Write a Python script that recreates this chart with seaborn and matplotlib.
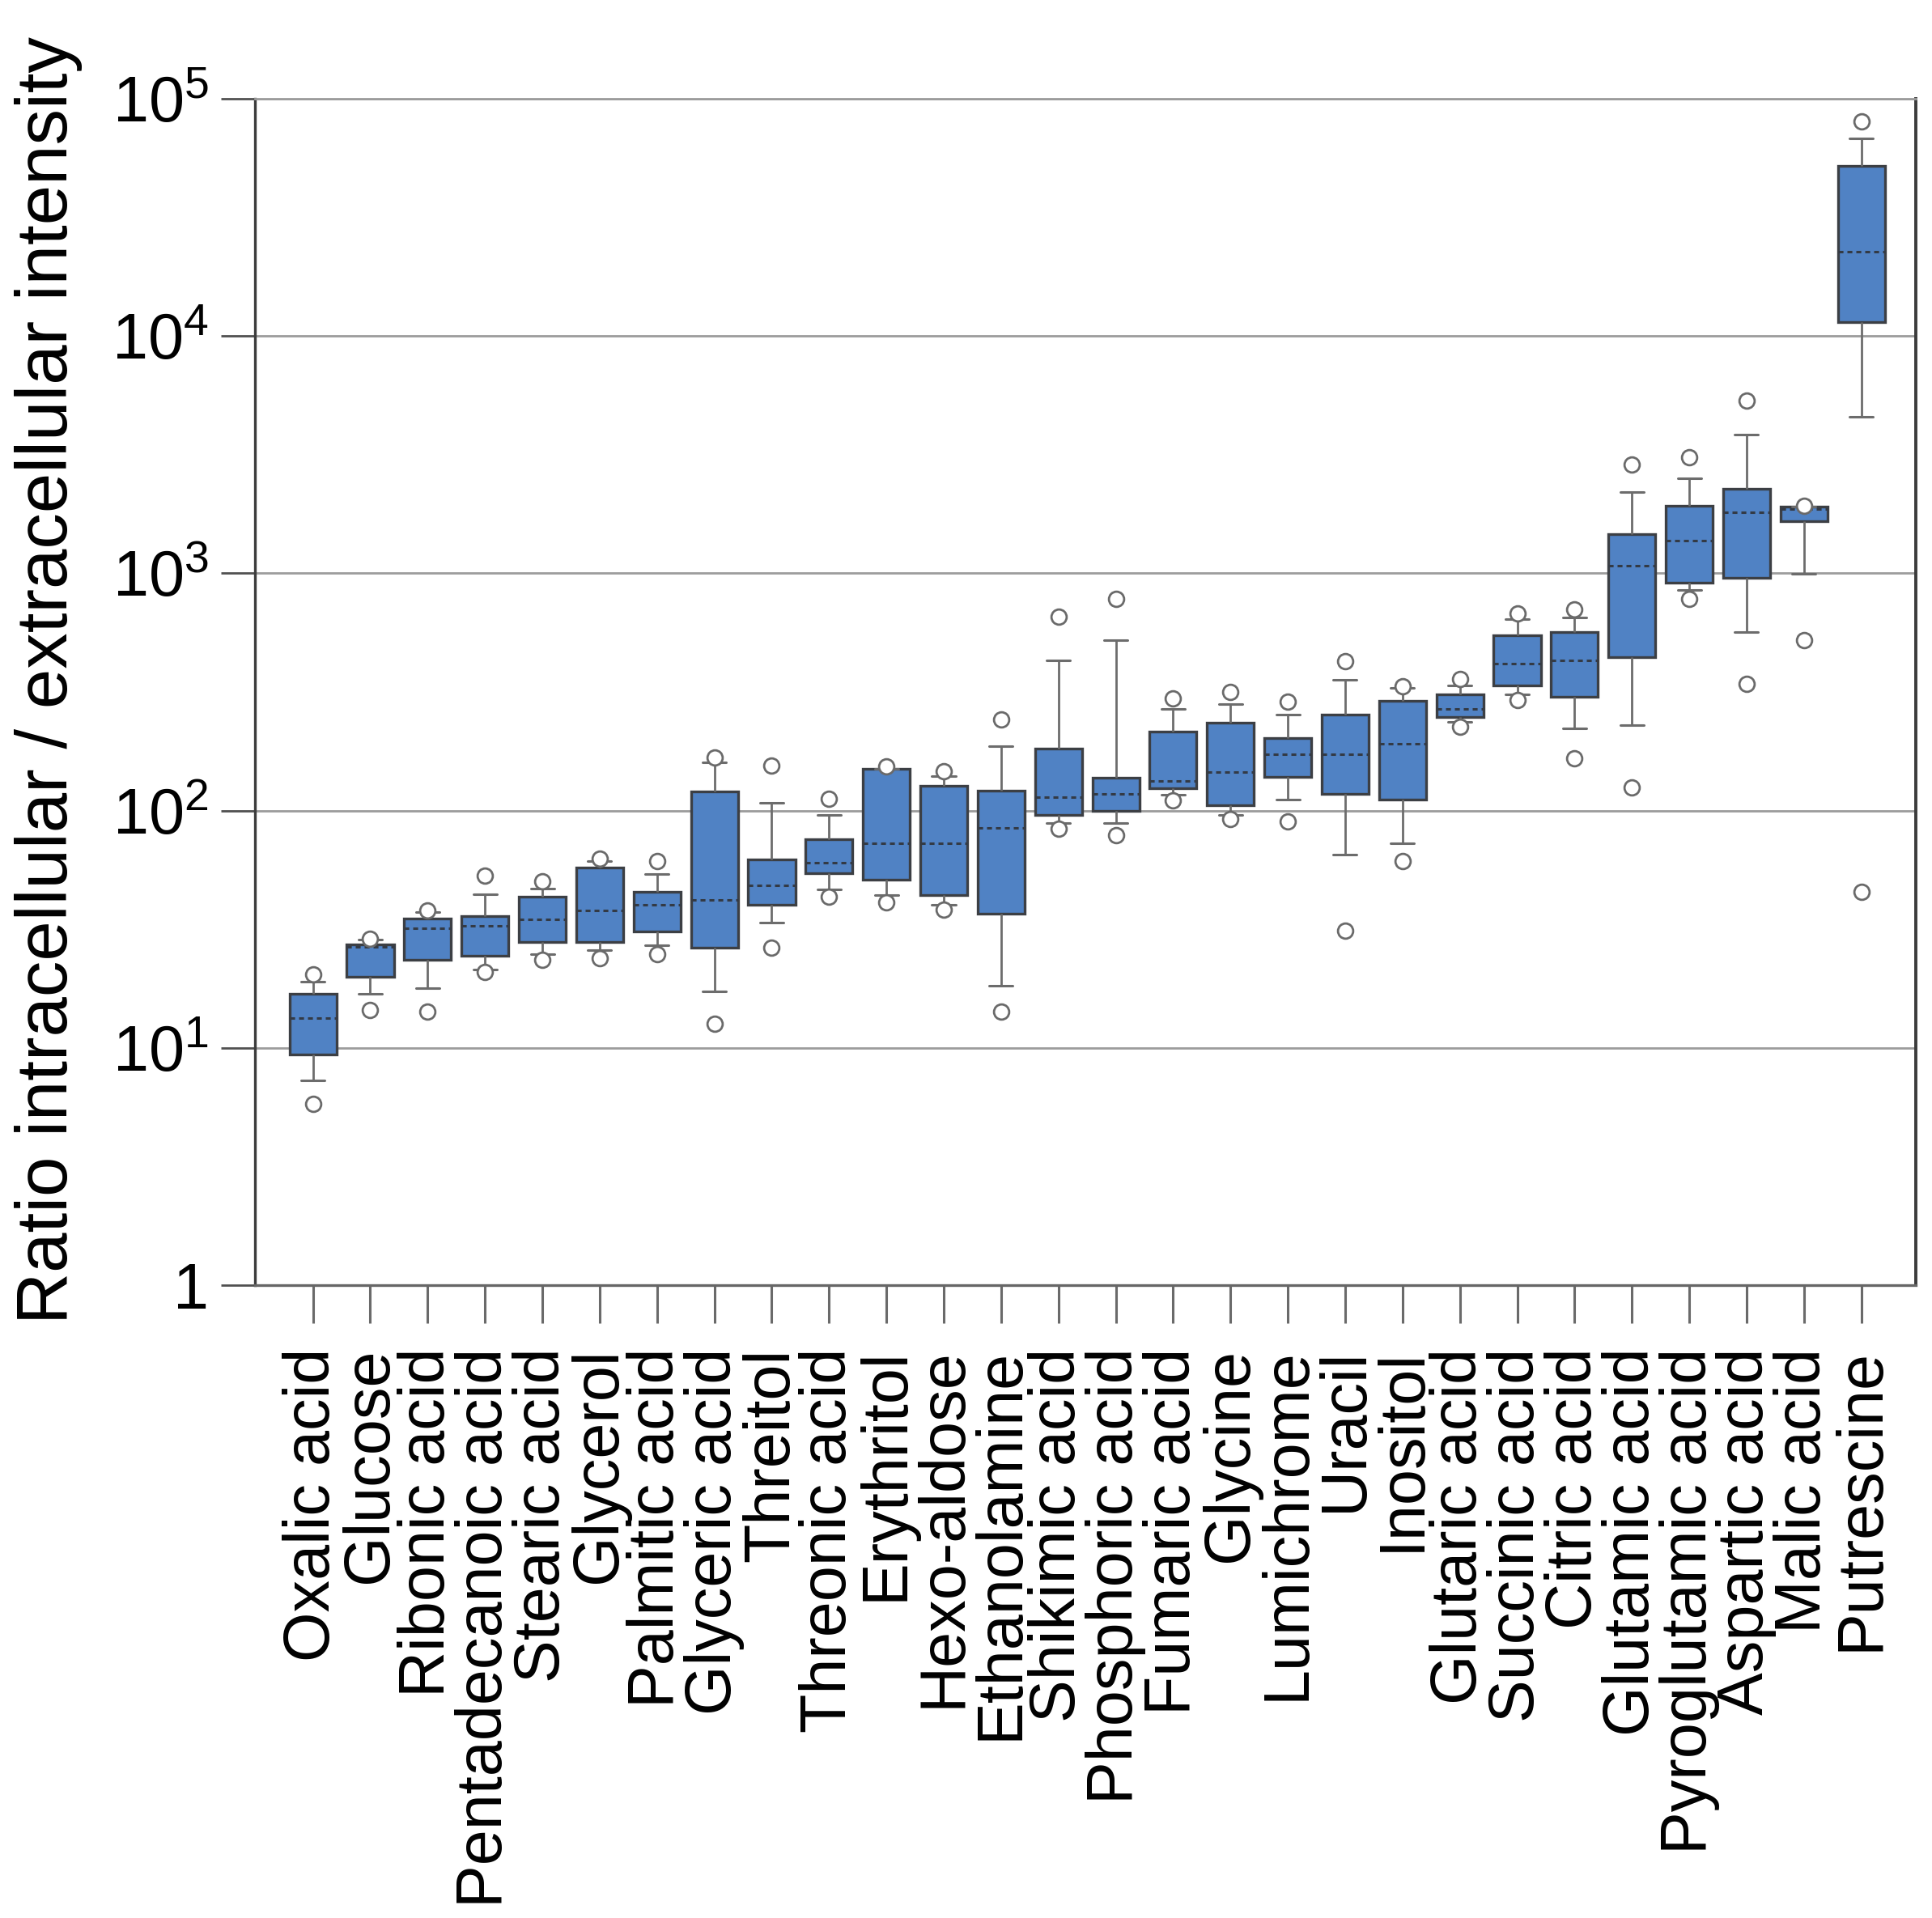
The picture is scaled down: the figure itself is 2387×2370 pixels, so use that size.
import matplotlib
matplotlib.use("Agg")
import matplotlib.pyplot as plt
import seaborn as sns
import pandas as pd

categories = ["Oxalic acid", "Glucose", "Ribonic acid", "Pentadecanoic acid", "Stearic acid",
              "Glycerol", "Palmitic acid", "Glyceric acid", "Threitol", "Threonic acid",
              "Erythritol", "Hexo-aldose", "Ethanolamine", "Shikimic acid", "Phosphoric acid",
              "Fumaric acid", "Glycine", "Lumichrome", "Uracil", "Inositol", "Glutaric acid",
              "Succinic acid", "Citric acid", "Glutamic acid", "Pyroglutamic acid",
              "Aspartic acid", "Malic acid", "Putrescine"]

whisker_low = [7.3, 16.9, 17.9, 21.3, 24.9, 25.9, 27.1, 17.3, 33.6, 46.7,
               44.0, 40.0, 18.3, 88.5, 88.5, 116.7, 96, 111, 65.1, 72.9,
               237, 309, 222, 228.5, 851, 564, 995, 4573]
q1 = [9.4, 19.9, 23.4, 24.4, 28.0, 28.0, 30.9, 26.4, 40.2, 54.3,
      51.1, 44.0, 36.8, 96, 99.6, 124, 105.7, 138.6, 117.4, 111,
      247, 337, 302, 443, 912, 959, 1660, 11460]
median = [13.3, 26.6, 31.8, 32.7, 34.8, 37.8, 40.1, 42.0, 48.2, 60.4,
          72.9, 72.9, 84.5, 114, 117.4, 133.7, 145.5, 172.6, 172.6, 191.5,
          268, 416, 430, 1075, 1374, 1812, 1867, 22700]
q3 = [16.9, 27.3, 35.0, 35.9, 43.4, 57.5, 45.5, 120.5, 62.3, 75.6,
      150, 127, 121, 182, 138, 216, 234, 202, 253, 289,
      309, 550, 564, 1462, 1932, 2277, 1914, 52000]
whisker_high = [19.0, 28.5, 37.3, 44.3, 47.0, 61.4, 54.2, 160, 108, 96.1,
                150, 140, 187, 429, 524, 269, 282, 253, 355, 329,
                338, 640, 653, 2204, 2523, 3845, 1914, 68100]
outlier_low = [5.8, 14.4, 14.2, 20.8, 23.5, 23.9, 24.9, 12.6, 26.4, 43.4,
               40.9, 38.3, 14.2, 84, 79, 110, 91.9, 89.7, 31.2, 61.2,
               225.5, 293, 165.6, 125, 782, 341, 523, 45.5]
outlier_high = [20.4, 28.9, 38.0, 53.2, 50.5, 62.5, 61.4, 167.6, 155, 111.7,
                153, 146, 242, 656, 779, 296, 317, 287.5, 425, 334,
                358, 679, 706, 2870, 3076, 5360, 1932, 80100]

ytick_values = [1, 10, 100, 1000, 10000, 100000]
ytick_labels = ["1", r"$10^{1}$", r"$10^{2}$", r"$10^{3}$", r"$10^{4}$", r"$10^{5}$"]
ylabel = "Ratio intracellular / extracellular intensity"

# long tables
box_rows = []
for i, c in enumerate(categories):
    for v in (whisker_low[i], q1[i], median[i], q3[i], whisker_high[i]):
        box_rows.append({"metabolite": c, "value": v})
box_df = pd.DataFrame(box_rows)
out_rows = []
for i, c in enumerate(categories):
    out_rows.append({"metabolite": c, "value": outlier_low[i]})
    out_rows.append({"metabolite": c, "value": outlier_high[i]})
out_df = pd.DataFrame(out_rows)

sns.set_theme(style="white")
plt.rcParams["font.family"] = ["Liberation Sans", "DejaVu Sans"]
plt.rcParams["mathtext.fontset"] = "custom"
plt.rcParams["mathtext.rm"] = "Liberation Sans"
plt.rcParams["mathtext.it"] = "Liberation Sans:italic"
plt.rcParams["mathtext.bf"] = "Liberation Sans:bold"
plt.rcParams["text.color"] = "black"
plt.rcParams["axes.labelcolor"] = "black"

fig = plt.figure(figsize=(23.87, 23.70), dpi=100)
ax = fig.add_axes([0.132, 0.330, 0.8596, 0.6185])

grid_col = "#9c9c9c"
ax.set_axisbelow(True)

sns.boxplot(data=box_df, x="metabolite", y="value", order=categories, ax=ax,
            log_scale=True, whis=(0, 100), width=0.82, saturation=1,
            color="#5082C4", linecolor="#3c3f44", linewidth=2.4,
            showfliers=False,
            medianprops=dict(color="#333a45", linestyle=(0, (2.0, 1.6)), linewidth=2.2),
            whiskerprops=dict(color="#6c6c6c", linewidth=2.0),
            capprops=dict(color="#6c6c6c", linewidth=2.2))

sns.stripplot(data=out_df, x="metabolite", y="value", order=categories, ax=ax,
              jitter=False, color="white", edgecolor="#6a6a6a", linewidth=2.0,
              size=13.5, marker="o", zorder=5)

ax.set_yscale("log")
ax.set_ylim(1, 1e5)
ax.set_xlim(-1.01, 27.95)
ax.set_yticks(ytick_values)
ax.set_yticklabels(ytick_labels)
ax.yaxis.set_minor_locator(matplotlib.ticker.NullLocator())
ax.yaxis.grid(True, color=grid_col, linewidth=2.0)
ax.xaxis.grid(False)

ax.tick_params(axis="y", which="major", direction="out", length=30, width=2.0,
               color="#505050", labelcolor="black", labelsize=57, pad=11, left=True)
ax.tick_params(axis="x", which="major", direction="out", length=34, width=2.2,
               color="#6a6a6a", labelcolor="black", labelsize=57, pad=22, bottom=True)
plt.setp(ax.get_xticklabels(), rotation=90, ha="center", va="top")

ax.set_xlabel("")
ax.set_ylabel(ylabel, fontsize=64, color="black")
ax.yaxis.set_label_coords(-0.1037, 0.51)

for side, col, lw in (("left", "#3c3c3c", 2.4), ("right", "#3c3c3c", 2.8),
                      ("bottom", "#666666", 2.4), ("top", grid_col, 2.0)):
    ax.spines[side].set_visible(True)
    ax.spines[side].set_color(col)
    ax.spines[side].set_linewidth(lw)

fig.savefig("out.png", dpi=100, facecolor="white")
